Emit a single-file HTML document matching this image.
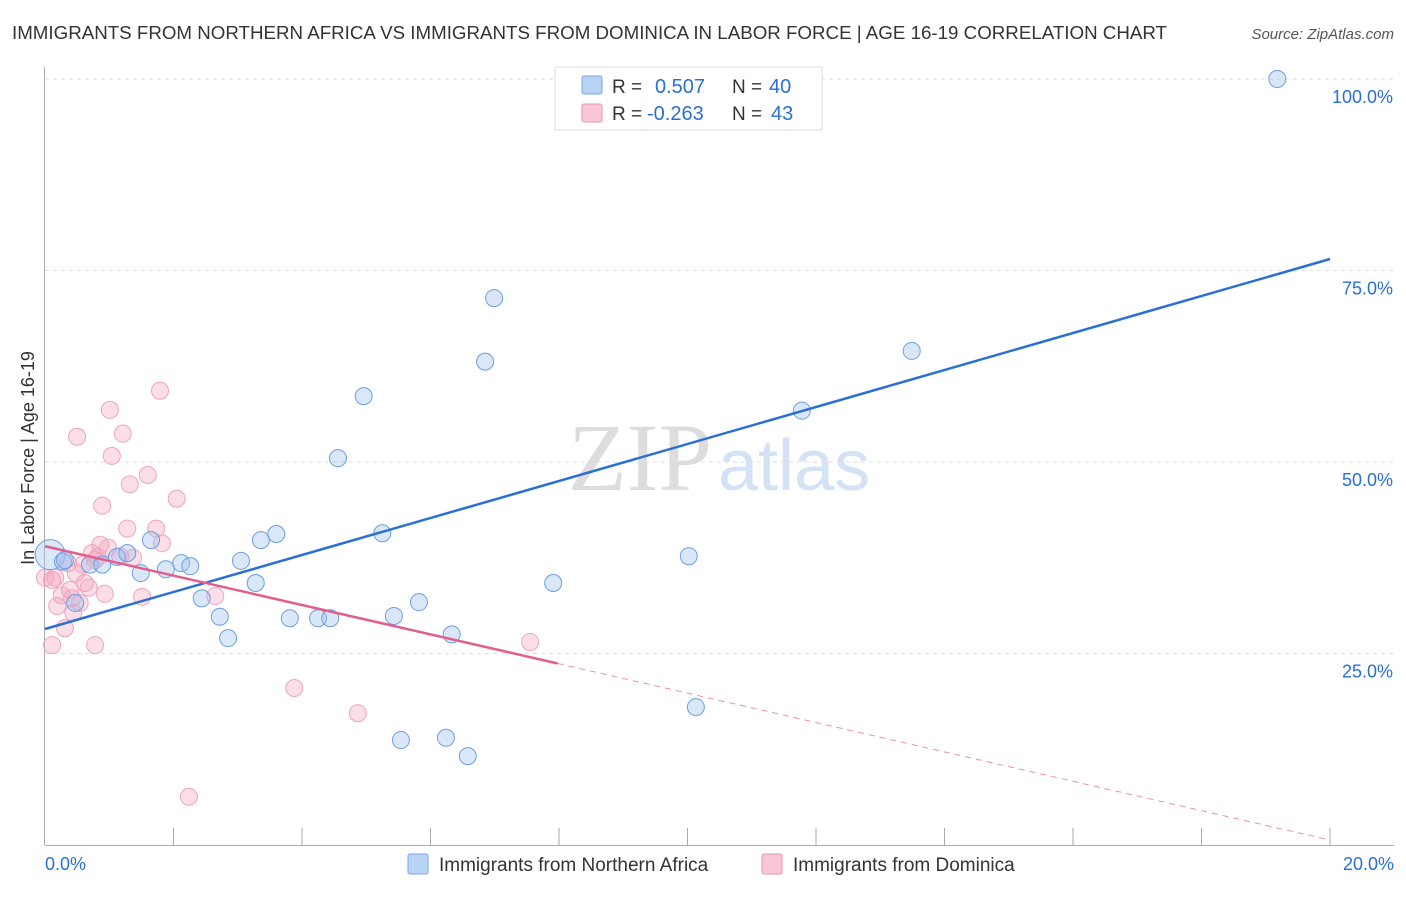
<!DOCTYPE html>
<html><head><meta charset="utf-8"><style>
body{margin:0;background:#fff;width:1406px;height:892px;overflow:hidden;font-family:"Liberation Sans",sans-serif}
</style></head><body>
<svg id="chart" width="1406" height="892" xmlns="http://www.w3.org/2000/svg">
<text x="12" y="39" font-size="18" fill="#333" textLength="1155" lengthAdjust="spacingAndGlyphs">IMMIGRANTS FROM NORTHERN AFRICA VS IMMIGRANTS FROM DOMINICA IN LABOR FORCE | AGE 16-19 CORRELATION CHART</text>
<text x="1394" y="39" font-size="15" fill="#555" font-style="italic" text-anchor="end">Source: ZipAtlas.com</text>
<text x="712" y="490" font-size="96" fill="#ddd" font-family="Liberation Serif,serif" text-anchor="end">ZIP</text>
<text x="718" y="490" font-size="72" fill="#d3e2f5">atlas</text>
<g id="grid"></g>
<g id="axes"></g>
<g id="marks"></g>
<text transform="translate(34,458) rotate(-90)" font-size="18" fill="#333" text-anchor="middle">In Labor Force | Age 16-19</text>
<g>
<rect x="555" y="67" width="267" height="63" fill="#fff" stroke="#ddd"/>
<rect x="582" y="76" width="20" height="18" fill="#b9d3f5" stroke="#7aa6e6" rx="2"/>
<rect x="582" y="104" width="20" height="18" fill="#f8c6d5" stroke="#e996b0" rx="2"/>
<text x="612" y="93" font-size="19" fill="#333">R = </text><text x="655" y="93" font-size="20" fill="#2a6fd4">0.507</text>
<text x="732" y="93" font-size="19" fill="#333">N = </text><text x="769" y="93" font-size="20" fill="#2a6fd4">40</text>
<text x="612" y="120" font-size="19" fill="#333">R = </text><text x="647" y="120" font-size="20" fill="#2a6fd4">-0.263</text>
<text x="732" y="120" font-size="19" fill="#333">N = </text><text x="771" y="120" font-size="20" fill="#2a6fd4">43</text>
</g>
<g>
<rect x="408" y="854" width="20" height="20" fill="#b9d3f5" stroke="#7aa6e6" rx="2"/>
<text x="439" y="871" font-size="19" fill="#333">Immigrants from Northern Africa</text>
<rect x="762" y="854" width="20" height="20" fill="#f8c6d5" stroke="#e996b0" rx="2"/>
<text x="793" y="871" font-size="19" fill="#333">Immigrants from Dominica</text>
</g>
</svg>
<script>
const blueX=[0.08,0.28,0.70,0.89,1.12,1.28,1.49,1.65,1.88,2.12,2.26,2.44,2.72,2.85,3.05,3.28,3.36,3.60,3.81,4.25,4.44,4.56,4.96,5.25,5.43,5.54,5.82,6.24,6.33,6.58,6.85,6.99,7.91,10.02,10.13,11.78,13.49,19.18,0.47,0.31];
const blueY=[37.9,37.0,36.6,36.6,37.6,38.1,35.5,39.8,36.0,36.8,36.4,32.2,29.8,27.0,37.1,34.2,39.8,40.6,29.6,29.6,29.6,50.5,58.6,40.7,29.9,13.7,31.7,14.0,27.5,11.6,63.1,71.4,34.2,37.7,18.0,56.7,64.5,100,31.6,37.2];
const pinkX=[0.11,0.19,0.31,0.11,0.39,0.50,0.54,0.44,0.48,0.62,0.68,0.78,0.86,0.89,0.93,1.01,1.04,0.98,1.21,1.28,1.32,1.37,1.51,1.60,1.73,1.79,1.82,2.05,2.24,2.65,3.88,4.87,7.55,0.73,0.82,0.16,0.36,0.59,1.17,0.26,0.42,0.0,0.78];
const pinkY=[34.6,31.2,28.3,26.1,33.3,53.3,31.6,30.3,35.5,34.2,33.6,26.1,39.2,44.3,32.8,56.8,50.8,38.8,53.7,41.3,47.1,37.5,32.4,48.3,41.3,59.3,39.4,45.2,6.3,32.5,20.5,17.2,26.5,38.1,37.6,34.9,36.8,36.6,37.7,32.6,32.2,34.9,37.2];
const blueTrend=[28.2,76.5];
const pinkTrend=[39.0,0.65];
const pinkSolidEnd=7.98;
const yTicks=[25,50,75,100];
const yTickLabels=["25.0%","50.0%","75.0%","100.0%"];
const xTickLabels=["0.0%","20.0%"];
const NS="http://www.w3.org/2000/svg";
const sx=v=>45+v*64.25, sy=v=>845-v*7.66;
function mk(tag,attrs,parent){const e=document.createElementNS(NS,tag);for(const k in attrs)e.setAttribute(k,attrs[k]);parent.appendChild(e);return e;}
const grid=document.getElementById('grid'),axes=document.getElementById('axes'),marks=document.getElementById('marks');
yTicks.forEach((t,i)=>{
 const l=mk('line',{x1:45,x2:1394,y1:sy(t),y2:sy(t),stroke:'#ddd','stroke-dasharray':'4,4'},grid);
 
 
 const tx=mk('text',{x:1393,y:sy(t)+24,'font-size':18,fill:'#2a6fd4','text-anchor':'end'},axes);
 tx.textContent=yTickLabels[i];
 
 
});
const topLine=mk('line',{x1:45,x2:1394,y1:79,y2:79,stroke:'#ddd','stroke-dasharray':'4,4'},grid);


const ya=mk('line',{x1:44.5,x2:44.5,y1:67,y2:845,stroke:'#aaa'},axes);


const xa=mk('line',{x1:45,x2:1394,y1:845.5,y2:845.5,stroke:'#aaa'},axes);


for(let i=1;i<=10;i++){const t=mk('line',{x1:sx(i*2),x2:sx(i*2),y1:828,y2:845,stroke:'#aaa'},axes);
 
 }
[[0,'start',45],[20,'end',1394]].forEach((d,i)=>{const t=mk('text',{x:d[2],y:870,'font-size':18,fill:'#2a6fd4','text-anchor':d[1]},axes);t.textContent=xTickLabels[i];
 
 });
pinkX.forEach((x,i)=>{const c=mk('circle',{cx:sx(x),cy:sy(pinkY[i]),r:8.5,fill:'rgba(244,160,186,0.35)',stroke:'#eea5bd','stroke-width':1},marks);
 
 });
blueX.forEach((x,i)=>{const c=mk('circle',{cx:sx(x),cy:sy(blueY[i]),r:i===0?15:8.5,fill:'rgba(160,196,240,0.4)',stroke:'#6d9fe0','stroke-width':1},marks);
 
 });
const pv=x=>pinkTrend[0]+(pinkTrend[1]-pinkTrend[0])*x/20;
const bl=mk('line',{x1:sx(0),y1:sy(blueTrend[0]),x2:sx(20),y2:sy(blueTrend[1]),stroke:'#2a6fd4','stroke-width':2.5},marks);


const pl=mk('line',{x1:sx(0),y1:sy(pv(0)),x2:sx(pinkSolidEnd),y2:sy(pv(pinkSolidEnd)),stroke:'#e0608c','stroke-width':2.5},marks);


const pd=mk('line',{x1:sx(pinkSolidEnd),y1:sy(pv(pinkSolidEnd)),x2:sx(20),y2:sy(pv(20)),stroke:'#e790ad','stroke-width':1,'stroke-dasharray':'6,5'},marks);


</script>
</body></html>
